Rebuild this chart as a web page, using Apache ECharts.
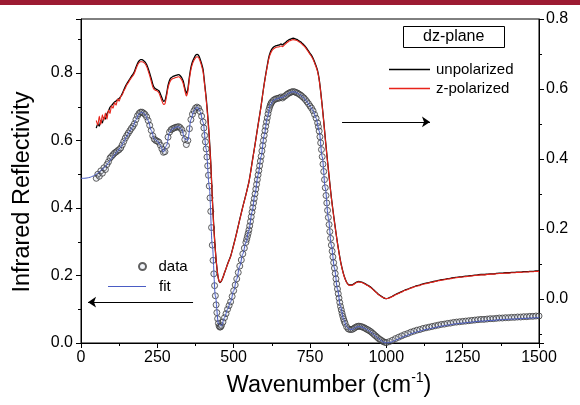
<!DOCTYPE html>
<html>
<head>
<meta charset="utf-8">
<script src="https://cdn.jsdelivr.net/npm/echarts@6/dist/echarts.min.js"></script>
<style>
html,body{margin:0;padding:0;background:#fff;}
#c{width:580px;height:405px;}
</style>
</head>
<body>
<div id="c"></div>
<script>
// sample grid: 50..1000 step 5, then 1010..1500 step 10
const wn = [];
for (let v = 50; v <= 1000; v += 5) wn.push(v);
for (let v = 1010; v <= 1500; v += 10) wn.push(v);

// unpolarized reflectivity (circles on left axis, black line on right axis)
const unpol = [
0.488,0.500,0.494,0.510,0.503,0.519,0.514,0.529,0.537,0.548,
0.553,0.558,0.563,0.566,0.570,0.573,0.578,0.587,0.597,0.607,
0.615,0.622,0.629,0.636,0.642,0.650,0.662,0.673,0.680,0.684,
0.684,0.681,0.677,0.670,0.659,0.645,0.630,0.614,0.604,0.600,
0.598,0.595,0.586,0.575,0.565,0.567,0.585,0.610,0.625,0.632,
0.635,0.637,0.639,0.640,0.641,0.638,0.632,0.622,0.603,0.588,
0.600,0.635,0.662,0.678,0.688,0.696,0.699,0.696,0.686,0.672,
0.655,0.615,0.575,0.525,0.465,0.390,0.290,0.205,0.140,0.090,
0.058,0.047,0.052,0.062,0.075,0.087,0.100,0.111,0.122,0.138,
0.155,0.172,0.190,0.209,0.228,0.246,0.264,0.281,0.298,0.316,
0.335,0.360,0.388,0.415,0.442,0.470,0.498,0.525,0.553,0.585,
0.615,0.642,0.667,0.690,0.705,0.714,0.719,0.722,0.724,0.725,
0.726,0.729,0.726,0.730,0.733,0.737,0.740,0.742,0.744,0.745,
0.744,0.742,0.740,0.737,0.734,0.730,0.726,0.721,0.715,0.709,
0.702,0.696,0.688,0.677,0.666,0.652,0.628,0.593,0.552,0.508,
0.460,0.415,0.372,0.330,0.290,0.255,0.222,0.190,0.160,0.133,
0.108,0.088,0.071,0.058,0.048,0.042,0.040,0.040,0.041,0.044,
0.047,0.049,0.050,0.049,0.048,0.046,0.044,0.041,0.039,0.036,
0.033,0.029,0.025,0.021,0.017,0.013,0.010,0.007,0.004,0.002,
0.001,
0.004,0.008,0.013,0.017,0.021,0.025,0.028,0.032,0.035,0.038,
0.040,0.043,0.045,0.047,0.049,0.051,0.053,0.055,0.056,0.058,
0.059,0.061,0.062,0.063,0.064,0.065,0.066,0.067,0.068,0.069,
0.070,0.070,0.071,0.072,0.072,0.073,0.074,0.074,0.075,0.075,
0.076,0.076,0.077,0.077,0.078,0.078,0.079,0.079,0.080,0.080
];

// extra measured points on the steep edges (circles only)
const extraWn = [
402.5,407.5,412.5,417.5,422.5,427.5,432.5,437.5,442.5,447.5,452.5,457.5,
542.5,547.5,552.5,557.5,562.5,567.5,572.5,577.5,582.5,587.5,592.5,597.5,602.5,607.5,612.5,617.5,622.5,
777.5,782.5,787.5,792.5,797.5,802.5,807.5,812.5,817.5,822.5,827.5,832.5,837.5,842.5,847.5,852.5,857.5,862.5
];
const extraVal = [
0.637,0.596,0.551,0.497,0.430,0.342,0.245,0.170,0.113,0.072,0.050,0.048,
0.307,0.325,0.347,0.374,0.401,0.428,0.456,0.484,0.511,0.539,0.569,0.600,0.629,0.655,0.679,0.698,0.710,
0.641,0.611,0.573,0.530,0.484,0.437,0.393,0.351,0.310,0.272,0.238,0.206,0.175,0.146,0.120,0.098,0.079,0.064
];

// z-polarized reflectivity (red line, right axis)
const zpol = [
0.510,0.497,0.522,0.499,0.526,0.511,0.531,0.514,0.540,0.530,
0.552,0.545,0.561,0.554,0.571,0.565,0.579,0.583,0.594,0.602,
0.612,0.618,0.626,0.632,0.638,0.646,0.657,0.668,0.675,0.678,
0.678,0.676,0.672,0.664,0.652,0.638,0.622,0.606,0.598,0.596,
0.594,0.589,0.578,0.566,0.556,0.558,0.578,0.603,0.618,0.626,
0.629,0.631,0.633,0.634,0.635,0.632,0.626,0.615,0.596,0.580,
0.593,0.628,0.655,0.672,0.682,0.689,0.692,0.690,0.680,0.666,
0.648,0.610,0.570,0.520,0.460,0.386,0.288,0.203,0.139,0.090,
0.058,0.048,0.052,0.062,0.075,0.087,0.099,0.110,0.121,0.137,
0.154,0.171,0.189,0.208,0.227,0.245,0.263,0.280,0.297,0.315,
0.334,0.359,0.387,0.414,0.441,0.469,0.497,0.524,0.552,0.584,
0.613,0.640,0.664,0.686,0.700,0.709,0.714,0.717,0.719,0.720,
0.721,0.723,0.721,0.725,0.729,0.733,0.736,0.738,0.740,0.741,
0.740,0.739,0.737,0.734,0.731,0.727,0.723,0.718,0.712,0.706,
0.699,0.693,0.685,0.674,0.663,0.649,0.626,0.591,0.550,0.506,
0.458,0.413,0.370,0.328,0.288,0.253,0.220,0.189,0.159,0.132,
0.107,0.087,0.070,0.057,0.047,0.041,0.039,0.039,0.040,0.043,
0.046,0.048,0.049,0.048,0.047,0.045,0.043,0.040,0.038,0.035,
0.032,0.028,0.024,0.020,0.016,0.012,0.009,0.006,0.004,0.002,
0.001,
0.003,0.007,0.012,0.016,0.020,0.024,0.027,0.031,0.034,0.037,
0.039,0.042,0.044,0.046,0.048,0.050,0.052,0.054,0.055,0.057,
0.058,0.060,0.061,0.062,0.063,0.064,0.065,0.066,0.067,0.068,
0.069,0.069,0.070,0.071,0.071,0.072,0.073,0.073,0.074,0.074,
0.075,0.075,0.076,0.076,0.077,0.077,0.078,0.078,0.079,0.079
];

// fit curve (blue line, left axis), 0..1500 step 10
const fitWn = [];
for (let v = 0; v <= 1500; v += 10) fitWn.push(v);
const fitVal = [
0.488,0.488,0.489,0.491,0.495,0.500,0.507,0.515,0.523,0.534,
0.546,0.558,0.569,0.580,0.596,0.613,0.628,0.642,0.661,0.679,
0.684,0.677,0.659,0.630,0.605,0.598,0.586,0.566,0.585,0.624,
0.635,0.639,0.641,0.632,0.604,0.601,0.662,0.688,0.699,0.686,
0.654,0.575,0.465,0.290,0.140,0.058,0.051,0.075,0.100,0.122,
0.155,0.190,0.228,0.264,0.298,0.335,0.388,0.442,0.498,0.553,
0.615,0.667,0.705,0.719,0.723,0.726,0.728,0.733,0.740,0.744,
0.744,0.740,0.734,0.726,0.715,0.702,0.688,0.666,0.628,0.552,
0.460,0.372,0.290,0.222,0.160,0.108,0.071,0.048,0.040,0.041,
0.046,0.049,0.047,0.043,0.038,0.032,0.024,0.016,0.009,0.003,
0.000,0.001,0.004,0.008,0.012,0.016,0.020,0.023,0.027,0.030,
0.033,0.035,0.038,0.040,0.042,0.044,0.046,0.048,0.050,0.051,
0.053,0.054,0.056,0.057,0.058,0.059,0.060,0.061,0.062,0.063,
0.064,0.065,0.065,0.066,0.067,0.067,0.068,0.069,0.069,0.070,
0.070,0.071,0.071,0.072,0.072,0.073,0.073,0.074,0.074,0.075,
0.075
];

// axis settings
const xTicks = [0, 250, 500, 750, 1000, 1250, 1500];
const leftRange = [0, 0.96];
const rightRange = [-0.1257, 0.8];
// arrows (annotation positions in data space)
const leftArrow = [[367, 0.121], [23, 0.121]];
const rightArrow = [[855, 0.655], [1143, 0.655]];

const FONT = '"Liberation Sans", Arial, sans-serif';
const pairs = (xs, ys) => xs.map((x, i) => [x, ys[i]]);
const circleData = pairs(wn, unpol).concat(pairs(extraWn, extraVal)).sort((a, b) => a[0] - b[0]);
const lbl = v => {
  const r = Math.round(v * 10) / 10;
  if (Math.abs(v - r) > 1e-6) return '';
  if (Math.abs(Math.round(r * 10) % 2) === 1) return '';
  return r.toFixed(1);
};

const chart = echarts.init(document.getElementById('c'), null, {renderer: 'canvas'});
chart.setOption({
  animation: false,
  backgroundColor: '#fff',
  textStyle: {fontFamily: FONT},
  graphic: [{
    type: 'rect', left: 0, top: 0, z: 100,
    shape: {width: 580, height: 5},
    style: {fill: '#9c1b32'}
  }],
  title: {
    text: 'dz-plane',
    left: 403, top: 26,
    padding: [2, 20, 2, 20],
    borderColor: '#000', borderWidth: 1,
    textStyle: {fontFamily: FONT, fontSize: 16, fontWeight: 'normal', color: '#000', lineHeight: 18}
  },
  legend: [{
    data: [{name: 'unpolarized', icon: 'rect'}, {name: 'z-polarized', icon: 'rect'}],
    orient: 'vertical', left: 389, top: 62,
    itemWidth: 41, itemHeight: 1.5, itemGap: 4,
    padding: 0,
    textStyle: {fontFamily: FONT, fontSize: 15, color: '#000', padding: [0, 0, 0, 1]}
  }, {
    data: ['data'],
    orient: 'vertical', left: 138, top: 259,
    itemWidth: 10, itemHeight: 7, padding: 0,
    textStyle: {fontFamily: FONT, fontSize: 15, color: '#000', padding: [0, 0, 0, 6]}
  }, {
    data: [{name: 'fit', icon: 'rect'}],
    orient: 'vertical', left: 108, top: 279,
    itemWidth: 38, itemHeight: 1, padding: 0,
    textStyle: {fontFamily: FONT, fontSize: 15, color: '#000', padding: [0, 0, 0, 8]}
  }],
  grid: {left: 81, right: 41, top: 19, bottom: 62, show: true, borderColor: '#000', borderWidth: 1, backgroundColor: 'transparent'},
  xAxis: {
    type: 'value', min: xTicks[0], max: xTicks[xTicks.length - 1], interval: 250,
    name: '{a|Wavenumber (cm}{s|-1}{a|)}',
    nameLocation: 'middle', nameGap: 23,
    nameTextStyle: {
      padding: [0, 0, 0, 38],
      rich: {
        a: {fontFamily: FONT, fontSize: 23.5, color: '#000', verticalAlign: 'bottom', lineHeight: 27},
        s: {fontFamily: FONT, fontSize: 14, color: '#000', verticalAlign: 'top', lineHeight: 27, padding: [0, 0, 10, 0]}
      }
    },
    axisLine: {show: true, lineStyle: {color: '#000', width: 1}},
    axisTick: {show: true, length: 5, lineStyle: {color: '#000'}},
    minorTick: {show: true, splitNumber: 2, length: 3, lineStyle: {color: '#000'}},
    splitLine: {show: false},
    axisLabel: {fontFamily: FONT, fontSize: 16, color: '#000', margin: 7, formatter: v => String(v)}
  },
  yAxis: [{
    type: 'value', min: leftRange[0], max: leftRange[1], interval: 0.2,
    position: 'left',
    name: 'Infrared Reflectivity',
    nameLocation: 'middle', nameGap: 46,
    nameTextStyle: {fontFamily: FONT, fontSize: 23.5, color: '#000', padding: [0, 22, 0, 0]},
    axisLine: {show: true, lineStyle: {color: '#000', width: 1}},
    axisTick: {show: true, length: 5, lineStyle: {color: '#000'}},
    minorTick: {show: true, splitNumber: 2, length: 3, lineStyle: {color: '#000'}},
    splitLine: {show: false},
    axisLabel: {fontFamily: FONT, fontSize: 16, color: '#000', margin: 8, formatter: lbl, showMaxLabel: false}
  }, {
    type: 'value', min: rightRange[0], max: rightRange[1], splitNumber: 5,
    position: 'right',
    axisLine: {show: true, lineStyle: {color: '#000', width: 1}},
    axisTick: {show: true, length: 5, lineStyle: {color: '#000'}},
    minorTick: {show: true, splitNumber: 2, length: 3, lineStyle: {color: '#000'}},
    splitLine: {show: false},
    axisLabel: {fontFamily: FONT, fontSize: 16, color: '#000', margin: 7, formatter: lbl}
  }],
  series: [{
    name: 'data', type: 'scatter', xAxisIndex: 0, yAxisIndex: 0,
    data: circleData,
    symbol: 'circle', symbolSize: 6, z: 2,
    itemStyle: {color: 'rgba(190,200,225,0.25)', borderColor: '#3a3a3a', borderWidth: 1}
  }, {
    name: 'fit', type: 'line', xAxisIndex: 0, yAxisIndex: 0,
    data: pairs(fitWn, fitVal),
    symbol: 'none', smooth: 0.3, smoothMonotone: 'x', z: 3,
    lineStyle: {color: '#4a5cc4', width: 1},
    itemStyle: {color: '#4a5cc4'},
    markLine: {
      silent: true, symbol: ['none', 'arrow'], symbolSize: 8,
      label: {show: false},
      lineStyle: {color: '#000', width: 1, type: 'solid'},
      data: [
        [{coord: leftArrow[0]}, {coord: leftArrow[1]}],
        [{coord: rightArrow[0]}, {coord: rightArrow[1]}]
      ]
    }
  }, {
    name: 'unpolarized', type: 'line', xAxisIndex: 0, yAxisIndex: 1,
    data: pairs(wn, unpol),
    symbol: 'none', smooth: 0.2, z: 4,
    lineStyle: {color: '#000', width: 1.3},
    itemStyle: {color: '#000'}
  }, {
    name: 'z-polarized', type: 'line', xAxisIndex: 0, yAxisIndex: 1,
    data: pairs(wn, zpol),
    symbol: 'none', smooth: 0.2, z: 5,
    lineStyle: {color: '#e8231a', width: 1.1},
    itemStyle: {color: '#e8231a'}
  }]
});
</script>
</body>
</html>
